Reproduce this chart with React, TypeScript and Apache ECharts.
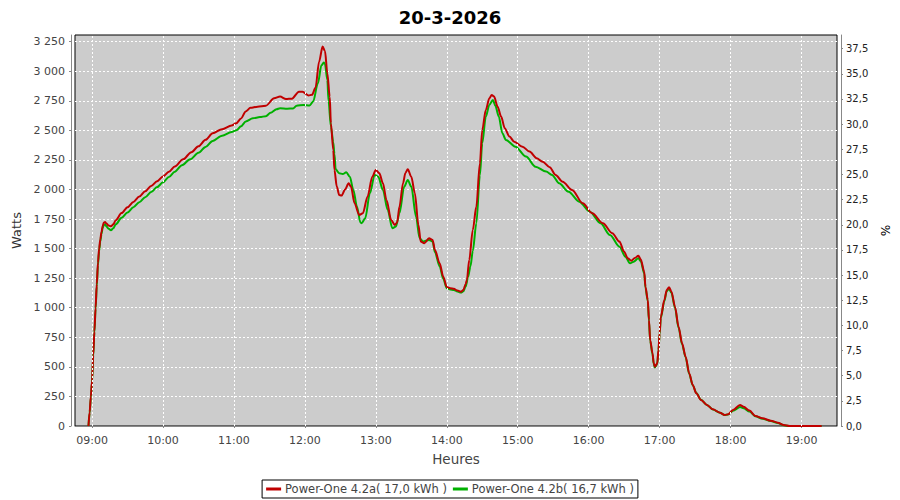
import React, { useEffect, useRef } from "react";
import * as echarts from "echarts";

const TITLE = "20-3-2026";
const X_NAME = "Heures";
const Y_NAME = "Watts";
const Y2_NAME = "%";
const RED_NAME = "Power-One 4.2a( 17,0 kWh )";
const GREEN_NAME = "Power-One 4.2b( 16,7 kWh )";

const hourTicks = ["09:00","10:00","11:00","12:00","13:00","14:00","15:00","16:00","17:00","18:00","19:00"];

const redTimes = [
  "08:57","08:58","08:59","09:00","09:01","09:02","09:03","09:04","09:05","09:06","09:07","09:08","09:09","09:10","09:11","09:12","09:14","09:16","09:18","09:20",
  "09:25","09:30","09:35","09:40","09:45","09:50","09:55","10:00","10:05","10:10","10:17","10:24","10:30","10:36","10:42","10:50","10:58","11:02","11:06","11:10",
  "11:14","11:20","11:27","11:34","11:39","11:44","11:49","11:55","11:58","12:03","12:06","12:09","12:12","12:15","12:17","12:19","12:21","12:22","12:24","12:25",
  "12:27","12:29","12:31","12:34","12:37","12:39","12:42","12:46","12:49","12:53","12:57","13:00","13:03","13:06","13:09","13:13","13:16","13:18","13:20","13:23",
  "13:25","13:27","13:30","13:33","13:36","13:38","13:41","13:45","13:48","13:50","13:54","13:57","14:00","14:03","14:06","14:09","14:12","14:14","14:16","14:17",
  "14:19","14:22","14:25","14:28","14:30","14:33","14:36","14:38","14:40","14:43","14:46","14:49","14:53","14:57","15:04","15:10","15:16","15:21","15:27","15:32",
  "15:38","15:46","15:55","16:03","16:12","16:20","16:26","16:30","16:33","16:36","16:39","16:42","16:44","16:47","16:48","16:50","16:51","16:52","16:54","16:55",
  "16:56","16:58","16:59","17:00","17:01","17:04","17:06","17:08","17:10","17:13","17:16","17:19","17:22","17:25","17:28","17:31","17:35","17:40","17:45","17:51",
  "17:55","17:58","18:02","18:08","18:11","18:16","18:21","18:27","18:34","18:40","18:45","18:50","19:17"
];
const redWatts = [
  0,120,250,380,600,800,1000,1200,1380,1500,1580,1640,1690,1720,1725,1715,1695,1688,1705,1740,
  1800,1850,1895,1940,1985,2030,2070,2110,2150,2195,2255,2315,2365,2420,2475,2510,2540,2560,2600,2660,
  2690,2700,2708,2771,2785,2765,2768,2827,2827,2795,2800,2860,3080,3208,3170,2983,2785,2560,2334,2165,
  2024,1954,1948,2000,2052,2024,1883,1784,1799,1939,2108,2165,2137,2052,1911,1742,1700,1720,1855,2052,
  2140,2171,2108,1968,1700,1559,1545,1587,1573,1488,1376,1263,1175,1165,1160,1145,1135,1150,1200,1235,
  1404,1658,1855,2222,2503,2672,2771,2799,2785,2700,2616,2518,2447,2404,2362,2320,2264,2235,2188,2123,
  2066,1996,1883,1799,1714,1630,1559,1474,1418,1398,1420,1440,1410,1305,1178,1066,896,727,615,530,
  502,530,643,784,924,1066,1150,1173,1136,1009,840,699,586,446,347,277,220,178,141,113,
  93,99,135,178,163,130,85,65,45,28,8,0,0
];

const greenTimes = [
  "08:57","08:58","08:59","09:00","09:01","09:02","09:03","09:04","09:05","09:06","09:07","09:08","09:09","09:10","09:11","09:12","09:14","09:16","09:18","09:20",
  "09:25","09:30","09:35","09:40","09:45","09:50","09:55","10:00","10:05","10:10","10:16","10:23","10:30","10:36","10:42","10:50","10:58","11:02","11:06","11:10",
  "11:16","11:22","11:27","11:31","11:36","11:39","11:45","11:50","11:53","11:59","12:04","12:07","12:11","12:14","12:16","12:17","12:19","12:20","12:22","12:24",
  "12:25","12:26","12:29","12:32","12:35","12:38","12:41","12:44","12:47","12:48","12:51","12:55","12:59","13:02","13:06","13:10","13:14","13:17","13:20","13:24",
  "13:27","13:30","13:34","13:37","13:40","13:45","13:48","13:50","13:54","13:57","14:00","14:03","14:06","14:09","14:12","14:14","14:16","14:18","14:20","14:22",
  "14:25","14:28","14:30","14:33","14:36","14:39","14:41","14:44","14:47","14:50","14:58","15:07","15:15","15:24","15:29","15:35","15:43","15:52","16:01","16:10",
  "16:18","16:26","16:31","16:35","16:38","16:42","16:44","16:47","16:48","16:50","16:51","16:52","16:54","16:55","16:56","16:58","16:59","17:00","17:01","17:04",
  "17:06","17:08","17:10","17:13","17:16","17:19","17:22","17:25","17:28","17:31","17:35","17:40","17:45","17:51","17:55","17:58","18:02","18:08","18:11","18:16",
  "18:21","18:27","18:34","18:40","18:45","18:50","19:17"
];
const greenWatts = [
  0,110,240,370,590,790,990,1180,1360,1480,1560,1625,1675,1700,1705,1690,1668,1655,1672,1705,
  1760,1805,1850,1892,1935,1978,2020,2060,2105,2150,2205,2255,2310,2360,2410,2455,2485,2500,2535,2575,
  2602,2612,2620,2648,2678,2687,2683,2685,2708,2715,2710,2743,2898,3050,3073,3060,2926,2750,2531,2400,
  2300,2170,2137,2130,2145,2108,1996,1855,1720,1715,1756,1968,2123,2108,1996,1827,1672,1686,1799,2024,
  2080,2024,1770,1587,1559,1573,1560,1470,1348,1245,1165,1155,1150,1138,1128,1140,1180,1260,1350,1480,
  1714,2120,2391,2616,2715,2757,2710,2616,2475,2419,2362,2278,2193,2151,2123,2052,1981,1897,1812,1714,
  1615,1516,1432,1376,1389,1418,1395,1290,1170,1055,885,720,605,525,495,525,635,775,915,1055,
  1140,1160,1125,1000,830,690,580,440,345,280,222,178,140,112,92,97,128,160,150,122,
  82,62,42,25,6,0,0
];

const X_MIN = [8, 45, 36];
const X_MAX = [19, 30, 0];
const Y_MAX = 3306;
const Y_INTERVAL = 250;
const Y2_MAX = 38.86;
const Y2_INTERVAL = 2.5;

function ts(h: number, m: number, s = 0) {
  return new Date(2026, 2, 20, h, m, s).getTime();
}
function parseHM(hm: string) {
  const [h, m] = hm.split(":").map(Number);
  return ts(h, m);
}
function pairs(times: string[], vals: number[]) {
  return times.map((t, i) => [parseHM(t), vals[i]]);
}
function fmtThousands(v: number) {
  const n = Math.round(v);
  if (n >= 1000) return `${Math.floor(n / 1000)} ${String(n % 1000).padStart(3, "0")}`;
  return String(n);
}

const FONT = "DejaVu Sans";

export default function App() {
  const ref = useRef<HTMLDivElement>(null);
  useEffect(() => {
    if (!ref.current) return;
    const chart = echarts.init(ref.current, null, { renderer: "svg" });
    const grid = { color: "#ffffff", type: [2, 2] as any, width: 1 };
    chart.setOption({
      animation: false,
      backgroundColor: "#ffffff",
      title: {
        text: TITLE,
        left: "center",
        top: 3,
        textStyle: { fontSize: 18, fontWeight: "bold", color: "#000", fontFamily: FONT },
      },
      legend: {
        data: [RED_NAME, GREEN_NAME],
        left: "center",
        bottom: 2,
        icon: "rect",
        itemWidth: 15,
        itemHeight: 3,
        itemGap: 6,
        padding: [3, 4],
        borderColor: "#000",
        borderWidth: 1,
        textStyle: { fontSize: 11.5, color: "#444", fontFamily: FONT, padding: [0, 0, 0, -1] },
      },
      grid: {
        left: 75,
        right: 63,
        top: 35,
        bottom: 74,
        show: true,
        backgroundColor: "#cccccc",
        borderColor: "#000",
        borderWidth: 1,
      },
      xAxis: {
        type: "time",
        min: ts(X_MIN[0], X_MIN[1], X_MIN[2]),
        max: ts(X_MAX[0], X_MAX[1], X_MAX[2]),
        minInterval: 3600 * 1000,
        maxInterval: 3600 * 1000,
        offset: 4,
        name: X_NAME,
        nameLocation: "middle",
        nameGap: 22,
        nameTextStyle: { fontSize: 13.5, color: "#444", fontFamily: FONT },
        axisLine: { show: true, lineStyle: { color: "#888", width: 1 } },
        axisTick: { show: true, length: 2, lineStyle: { color: "#888" } },
        axisLabel: {
          formatter: "{HH}:{mm}",
          color: "#444",
          fontSize: 11,
          fontFamily: FONT,
          margin: 5,
          showMinLabel: false,
          showMaxLabel: false,
          fontWeight: "normal",
        },
        splitLine: { show: false },
      },
      yAxis: [
        {
          type: "value",
          position: "left",
          min: 0,
          max: Y_MAX,
          interval: Y_INTERVAL,
          offset: 4,
          name: Y_NAME,
          nameLocation: "middle",
          nameGap: 43,
          nameTextStyle: { fontSize: 13, color: "#333", fontFamily: FONT },
          axisLine: { show: true, lineStyle: { color: "#888", width: 1 } },
          axisTick: { show: true, length: 2, lineStyle: { color: "#888" } },
          axisLabel: {
            formatter: (v: number) => fmtThousands(v),
            color: "#444",
            fontSize: 11,
            fontFamily: FONT,
            margin: 6,
            showMaxLabel: false,
          },
          splitLine: { show: true, showMinLine: false, showMaxLine: false, lineStyle: grid },
        },
        {
          type: "value",
          position: "right",
          min: 0,
          max: Y2_MAX,
          interval: Y2_INTERVAL,
          offset: 4,
          name: Y2_NAME,
          nameLocation: "middle",
          nameRotate: -90,
          nameGap: 34,
          nameTextStyle: { fontSize: 12, color: "#000", fontFamily: FONT },
          axisLine: { show: true, lineStyle: { color: "#888", width: 1 } },
          axisTick: { show: true, length: 2, lineStyle: { color: "#888" } },
          axisLabel: {
            formatter: (v: number) => v.toFixed(1).replace(".", ","),
            color: "#222",
            fontSize: 10,
            fontFamily: FONT,
            margin: 5,
            showMaxLabel: false,
          },
          splitLine: { show: false },
        },
      ],
      series: [
        {
          name: "hourGrid",
          type: "line",
          yAxisIndex: 0,
          data: [],
          silent: true,
          z: 1,
          markLine: {
            silent: true,
            symbol: ["none", "none"],
            label: { show: false },
            lineStyle: { color: "#ffffff", type: [2, 2], width: 1 },
            emphasis: { disabled: true },
            data: hourTicks.map((h) => ({ xAxis: parseHM(h) })),
          },
        },
        {
          name: GREEN_NAME,
          type: "line",
          yAxisIndex: 0,
          data: pairs(greenTimes, greenWatts),
          showSymbol: false,
          smooth: 0.3,
          smoothMonotone: "x",
          color: "#00b000",
          lineStyle: { width: 2, color: "#00b000" },
          z: 2,
        },
        {
          name: RED_NAME,
          type: "line",
          yAxisIndex: 0,
          data: pairs(redTimes, redWatts),
          showSymbol: false,
          smooth: 0.3,
          smoothMonotone: "x",
          color: "#c00000",
          lineStyle: { width: 2, color: "#c00000" },
          z: 3,
        },
      ],
    });
    return () => chart.dispose();
  }, []);
  return (
    <div
      ref={ref}
      style={{ position: "fixed", left: 0, top: 0, width: 900, height: 500, background: "#fff" }}
    />
  );
}
